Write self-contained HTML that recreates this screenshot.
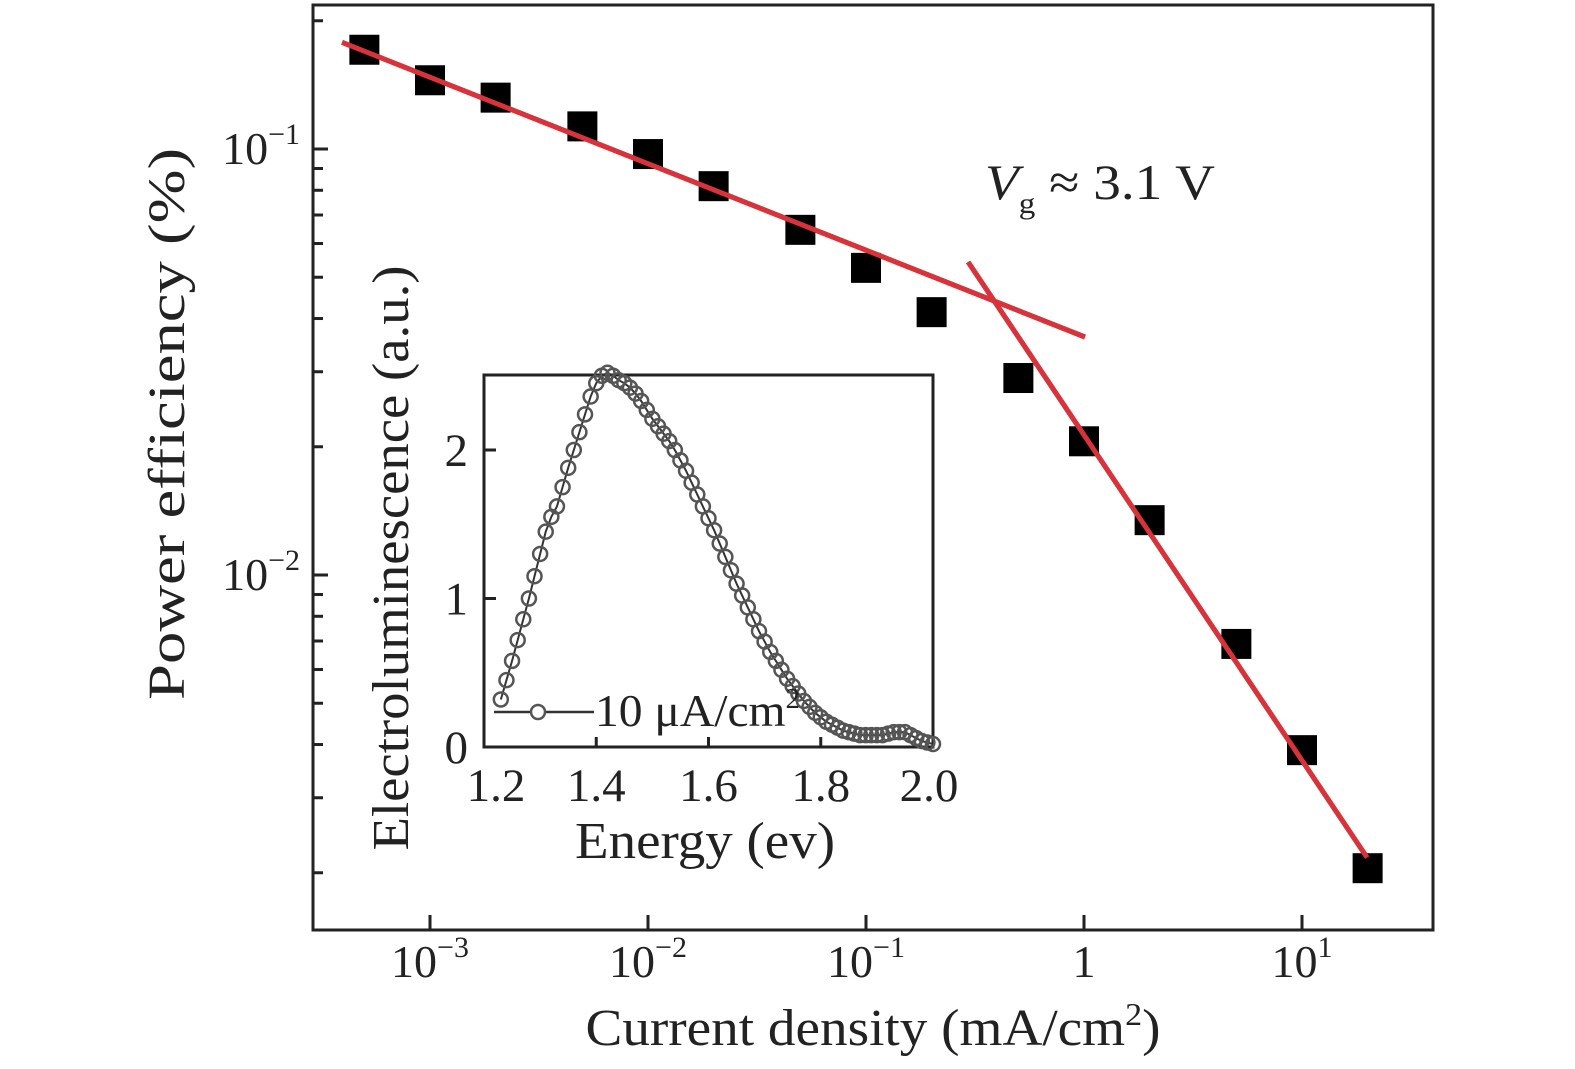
<!DOCTYPE html>
<html><head><meta charset="utf-8"><style>
body{margin:0;background:#fff}
svg{display:block;font-family:"Liberation Serif",serif}
</style></head><body>
<svg id="c" width="1575" height="1069" viewBox="0 0 1575 1069"></svg>
<script>
const xJ=[5e-4,1e-3,2e-3,5e-3,1e-2,2e-2,5e-2,0.1,0.2,0.5,1,2,5,10,20];
const yPE=[0.171,0.145,0.132,0.113,0.0973,0.0818,0.0646,0.0526,0.0414,0.029,0.0206,0.01345,0.00689,0.00388,0.00205];
const fit1=[[3.95e-4,0.178],[1.01,0.0362]];
const fit2=[[0.294,0.0543],[19.9,0.00217]];
const xTickExp=[-3,-2,-1,0,1];
const yTickExp=[-2,-1];
const eE=[1.23,1.24,1.25,1.26,1.27,1.28,1.29,1.30,1.31,1.32,1.33,1.34,1.35,1.36,1.37,1.38,1.39,1.40,1.41,1.42,1.43,1.44,1.45,1.46,1.47,1.48,1.49,1.50,1.51,1.52,1.53,1.54,1.55,1.56,1.57,1.58,1.59,1.60,1.61,1.62,1.63,1.64,1.65,1.66,1.67,1.68,1.69,1.70,1.71,1.72,1.73,1.74,1.75,1.76,1.77,1.78,1.79,1.80,1.81,1.82,1.83,1.84,1.85,1.86,1.87,1.88,1.89,1.90,1.91,1.92,1.93,1.94,1.95,1.96,1.97,1.98,1.99,2.00];
const eEL=[.32,.45,.58,.72,.86,1.0,1.15,1.3,1.45,1.55,1.62,1.75,1.88,2.0,2.12,2.24,2.36,2.45,2.5,2.52,2.5,2.47,2.45,2.42,2.38,2.33,2.27,2.21,2.16,2.11,2.06,2.0,1.93,1.86,1.78,1.7,1.62,1.54,1.46,1.37,1.28,1.19,1.1,1.02,.94,.86,.78,.71,.64,.58,.52,.46,.41,.36,.31,.27,.23,.2,.17,.15,.13,.11,.1,.09,.08,.08,.08,.08,.08,.09,.1,.1,.1,.08,.06,.04,.03,.02,.01];
const insXTicks=[1.2,1.4,1.6,1.8,2.0];
const insYTicks=[0,1,2];

const NS="http://www.w3.org/2000/svg",svg=document.getElementById('c');
function mk(t,a,p){const e=document.createElementNS(NS,t);for(const k in a)e.setAttribute(k,a[k]);(p||svg).appendChild(e);return e;}
const L=313,R=1433,T=5,B=930;
const X=v=>430+(Math.log10(v)+3)*218;
const Y=v=>149-(Math.log10(v)+1)*426;
const IL=484,IR=933,IT=375,IB=747;
const IX=v=>IL+(v-1.2)/0.8*(IR-IL);
const IY=v=>IB-v*148.5;
const SP='spacingAndGlyphs';

let f=mk('rect',{x:L,y:T,width:R-L,height:B-T,fill:'none',stroke:'#222','stroke-width':3});

xTickExp.forEach(e=>{const x=X(Math.pow(10,e));
 let t=mk('line',{x1:x,x2:x,y1:B,y2:B-15,stroke:'#222','stroke-width':3});
 
 let tx=mk('text',{x:x,y:977,'font-size':46,'text-anchor':'middle',fill:'#222'});
 
 if(e===0)tx.textContent='1';else tx.innerHTML='10<tspan dy="-20" font-size="30">'+(e<0?'−'+(-e):e)+'</tspan>';
});
for(let e=-3;e<=-1;e++)for(let m=1;m<10;m++){const v=m*Math.pow(10,e),y=Y(v);if(y<T||y>B)continue;
 let t=mk('line',{x1:L,x2:L+(m===1?15:10),y1:y,y2:y,stroke:'#222','stroke-width':3});
 }
yTickExp.forEach(e=>{const y=Y(Math.pow(10,e));
 let tx=mk('text',{x:300,y:y+15,'font-size':46,'text-anchor':'end',fill:'#222'});
 
 tx.innerHTML='10<tspan dy="-20" font-size="30">−'+(-e)+'</tspan>';});
let xt=mk('text',{x:873,y:1045,'font-size':52,'text-anchor':'middle',fill:'#222',textLength:575,lengthAdjust:SP});

xt.innerHTML='Current density (mA/cm<tspan dy="-20" font-size="32">2</tspan><tspan dy="20">)</tspan>';
let yt=mk('text',{x:0,y:0,'font-size':52,'text-anchor':'middle',fill:'#222',transform:'translate(184,424) rotate(-90)',textLength:552,lengthAdjust:SP});

yt.textContent='Power efficiency (%)';
[fit1,fit2].forEach((f,i)=>{let l=mk('line',{x1:X(f[0][0]),y1:Y(f[0][1]),x2:X(f[1][0]),y2:Y(f[1][1]),stroke:'#d8333b','stroke-width':5});
 });
xJ.forEach((v,i)=>{let r=mk('rect',{x:X(v)-15,y:Y(yPE[i])-15,width:30,height:30,fill:'#000'});
 });
[fit1,fit2].forEach((f,i)=>{let l=mk('line',{x1:X(f[0][0]),y1:Y(f[0][1]),x2:X(f[1][0]),y2:Y(f[1][1]),stroke:'#d8333b','stroke-width':5});
 });
let vg=mk('text',{x:985,y:199,'font-size':50,fill:'#222',textLength:230,lengthAdjust:SP});

vg.innerHTML='<tspan font-style="italic">V</tspan><tspan dy="14" font-size="30">g</tspan><tspan dy="-14"> ≈ 3.1 V</tspan>';
// inset
let ib=mk('rect',{x:IL,y:IT,width:IR-IL,height:IB-IT,fill:'#fff',stroke:'#222','stroke-width':3});

insXTicks.forEach(v=>{const x=IX(v);
 if(v>1.2&&v<2.0){let t=mk('line',{x1:x,x2:x,y1:IB,y2:IB-10,stroke:'#222','stroke-width':3});}
 let tx=mk('text',{x:x+(v===1.2?12:v===2.0?-4:0),y:801,'font-size':47,'text-anchor':'middle',fill:'#222'});
 tx.textContent=v.toFixed(1);});
insYTicks.forEach(v=>{const y=IY(v);
 if(v>0){let t=mk('line',{x1:IL,x2:IL+12,y1:y,y2:y,stroke:'#222','stroke-width':3});}
 let tx=mk('text',{x:468,y:y+16,'font-size':47,'text-anchor':'end',fill:'#222'});
 tx.textContent=v;});
let ixt=mk('text',{x:705,y:858,'font-size':52,'text-anchor':'middle',fill:'#222',textLength:260,lengthAdjust:SP});
ixt.textContent='Energy (ev)';
let iyt=mk('text',{x:0,y:0,'font-size':52,'text-anchor':'middle',fill:'#222',transform:'translate(408,558) rotate(-90)',textLength:585,lengthAdjust:SP});
iyt.textContent='Electroluminescence (a.u.)';
let pl=mk('polyline',{points:eE.map((e,i)=>IX(e)+','+IY(eEL[i])).join(' '),fill:'none',stroke:'#333','stroke-width':2});

eE.forEach((e,i)=>{let c=mk('circle',{cx:IX(e),cy:IY(eEL[i]),r:7,fill:'none',stroke:'#555','stroke-width':2.5});
 });
let lg=mk('line',{x1:494,x2:594,y1:712,y2:712,stroke:'#333','stroke-width':2.5});

let lc=mk('circle',{cx:538,cy:712,r:7,fill:'#fff',stroke:'#555','stroke-width':2.5});

let lt=mk('text',{x:595,y:726,'font-size':46,fill:'#222',textLength:205,lengthAdjust:SP});

lt.innerHTML='10 μA/cm<tspan dy="-18" font-size="28">2</tspan>';
</script>
</body></html>
